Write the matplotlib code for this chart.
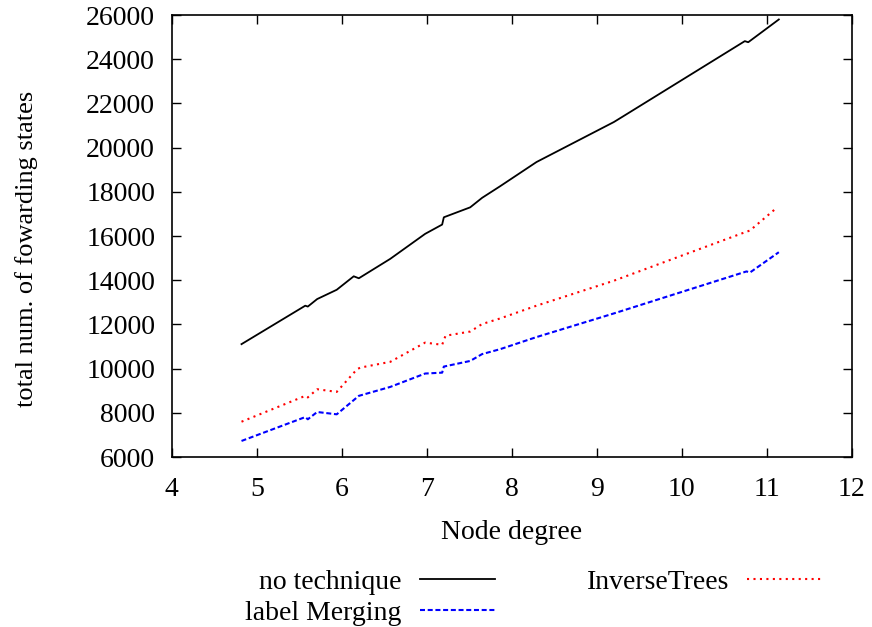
import matplotlib
matplotlib.use("Agg")
import matplotlib.pyplot as plt

plt.rcParams['font.family'] = ['Liberation Serif', 'DejaVu Serif']

# Data
x_none = [4.82, 5.57, 5.60, 5.71, 5.94, 6.14, 6.20, 6.57, 6.98, 7.18, 7.20, 7.51, 7.65, 7.86,
          8.29, 9.20, 9.31, 10.74, 10.78, 11.14]
y_none = [11110, 12850, 12810, 13150, 13570, 14180, 14090, 14970, 16100, 16520, 16850, 17300,
          17730, 18250, 19350, 21160, 21420, 24820, 24770, 25800]

x_inv = [4.82, 5.57, 5.60, 5.71, 5.94, 6.18, 6.22, 6.57, 6.98, 7.18, 7.22, 7.51, 7.65, 7.86,
         8.29, 9.20, 10.74, 10.80, 11.10]
y_inv = [7600, 8770, 8700, 9070, 8950, 9980, 10050, 10310, 11180, 11080, 11490, 11680,
         12020, 12270, 12850, 13980, 16170, 16250, 17230]

x_lm = [4.82, 5.57, 5.60, 5.71, 5.94, 6.20, 6.57, 6.98, 7.18, 7.20, 7.51, 7.65, 7.86,
        8.29, 9.20, 10.76, 10.80, 11.14]
y_lm = [6730, 7810, 7710, 8040, 7935, 8770, 9175, 9780, 9820, 10095, 10350, 10660, 10880,
        11430, 12500, 14400, 14350, 15270]

xticks = [4, 5, 6, 7, 8, 9, 10, 11, 12]
yticks = [6000, 8000, 10000, 12000, 14000, 16000, 18000, 20000, 22000, 24000, 26000]

FS = 20

fig = plt.figure(figsize=(8.72, 6.27), dpi=100)
ax = fig.add_axes([0.197, 0.271, 0.780, 0.705])

l1, = ax.plot(x_none, y_none, color='black', lw=1.3, label='no technique')
l2, = ax.plot(x_lm, y_lm, color='blue', lw=1.5, linestyle=(0, (2.4, 1.3)), label='label Merging')
l3, = ax.plot(x_inv, y_inv, color='red', lw=1.5, linestyle=(0, (1, 2.1)), label='InverseTrees')

ax.set_xlim(4, 12)
ax.set_ylim(6000, 26000)
ax.set_xticks(xticks)
ax.set_yticks(yticks)
ax.tick_params(axis='both', direction='in', length=6.5, width=1, top=True, right=True,
               labelsize=FS)
ax.tick_params(axis='x', pad=14.5)
ax.tick_params(axis='y', pad=12)
for s in ax.spines.values():
    s.set_linewidth(1.2)

ax.set_xlabel('Node degree', fontsize=FS, va='center')
ax.xaxis.set_label_coords(0.499, -0.17)
ax.set_ylabel('total num. of fowarding states', fontsize=19, va='center')
ax.yaxis.set_label_coords(-0.213, 0.47)

fig.legend(handles=[l1, l2, l3], loc='upper center', bbox_to_anchor=(0.612, 0.0915),
           ncol=2, markerfirst=False, frameon=False, fontsize=FS, handlelength=2.7,
           handletextpad=0.65, columnspacing=3.3, labelspacing=0.19, borderaxespad=0,
           borderpad=0)

fig.savefig('out.png', dpi=100)
